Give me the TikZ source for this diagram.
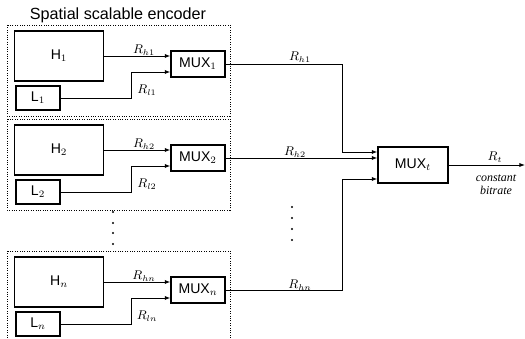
\documentclass[tikz,border=0pt]{standalone}
\usepackage{fontspec}
\setmainfont{Liberation Sans}
\newfontfamily\seriffont{Liberation Serif}
\usetikzlibrary{arrows.meta,calc,positioning}

\tikzset{
  block/.style={draw, line width=0.8pt, inner sep=0pt, font=\fontsize{10}{12}\selectfont},
  hblock/.style={block, minimum width=2.225cm, minimum height=1.25cm},
  lblock/.style={block, minimum width=1.1cm, minimum height=0.6cm},
  muxblock/.style={block, minimum width=1.35cm, minimum height=0.65cm},
  encbox/.style={densely dotted, line width=0.7pt},
  sig/.style={line width=0.7pt, -{Latex[length=4pt,width=3pt]}},
  rate/.style={font=\fontsize{9}{10}\selectfont, inner sep=1pt},
}

\begin{document}
\begin{tikzpicture}[x=0.025cm, y=-0.025cm]
		\useasboundingbox (0,0) rectangle (525,339);
		
		% title above the first encoder
		\node[font=\fontsize{11.5}{13}\selectfont] (title) at (118,15) {Spatial scalable encoder};
		
		% one encoder per row: H and L layers into a multiplexer
		\foreach \i/\y in {1/0, 2/94, n/226}{
			\draw[encbox] (7,{25+\y}) rectangle (230,{116+\y});
			\node[hblock] (h\i) at (59,{56+\y}) {H$_\i$};
			\node[lblock] (l\i) at (38,{98+\y}) {L$_\i$};
			\node[muxblock] (mux\i) at (198,{64+\y}) {MUX$_\i$};
			\coordinate (bend\i) at (131,{72+\y});
			\draw[sig] (h\i.east) -- (h\i.east -| mux\i.west);
			\draw[sig] (l\i.east) -| (bend\i) -- (bend\i -| mux\i.west);
			\node[rate] (rh\i) at (144,{50+\y}) {$R_{h\i}$};
			\node[rate] (rl\i) at (147,{90+\y}) {$R_{l\i}$};
		}
		
		% vertical dots between the rows
		\foreach \yy in {212,223,233,244} \fill (113,\yy) circle (0.8pt);
		\foreach \yy in {207,218,229,240} \fill (292,\yy) circle (0.8pt);
		
		% final multiplexer
		\node[block, minimum width=1.75cm, minimum height=0.9cm] (muxt) at (413,165) {MUX$_t$};
		
		\coordinate (c1) at (342,152);
		\coordinate (cn) at (342,179);
		\coordinate (out) at (525,166);
		\draw[sig] (mux1.east) -| (c1) -- (c1 -| muxt.west);
		\draw[sig] (mux2.east) -- (mux2.east -| muxt.west);
		\draw[sig] (muxn.east) -| (cn) -- (cn -| muxt.west);
		\draw[sig] (muxt.east) -- (muxt.east -| out);
		
		% rate labels on the long lines
		\node[rate] (rt1) at (300,57) {$R_{h1}$};
		\node[rate] (rt2) at (295,152) {$R_{h2}$};
		\node[rate] (rtn) at (300,285) {$R_{hn}$};
		\node[rate] (rt) at (495,157) {$R_t$};
		\node[font=\seriffont\itshape\fontsize{8.5}{9.5}\selectfont, align=center] (cbr) at (496,185) {constant\\bitrate};
	\end{tikzpicture}
\end{document}
